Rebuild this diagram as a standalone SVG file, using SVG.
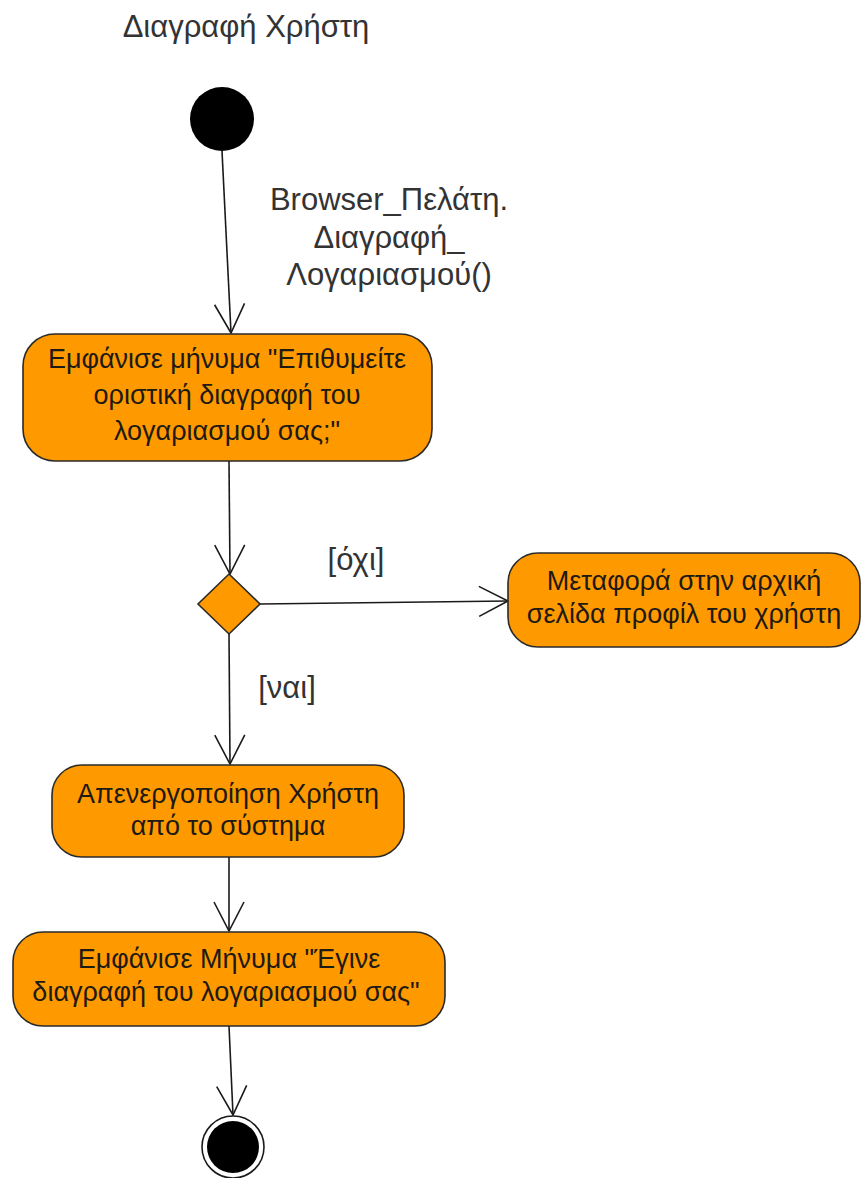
<svg xmlns="http://www.w3.org/2000/svg" width="861" height="1178" viewBox="0 0 861 1178">
  <style>
    text { font-family: "Liberation Sans", Arial, sans-serif; text-anchor: middle; }
    .body { font-size: 27px; fill: #1e1a14; }
    .lbl { font-size: 31px; fill: #333; }
    .act { fill: #ff9900; stroke: #2a2a2a; stroke-width: 1.6; }
    .edge { fill: none; stroke: #1a1a1a; stroke-width: 1.6; }
  </style>
  <defs>
    <marker id="open" markerUnits="userSpaceOnUse" viewBox="-32 -18 34 36" refX="0" refY="0" markerWidth="34" markerHeight="36" orient="auto" overflow="visible">
      <path d="M-29,-15 L0,0 L-29,15" fill="none" stroke="#1a1a1a" stroke-width="1.6"/>
    </marker>
  </defs>
  <rect width="861" height="1178" fill="#fff"/>

  <text x="246" y="37" class="lbl">Διαγραφή Χρήστη</text>

  <!-- connectors -->
  <g id="edges">
    <path class="edge" d="M222,151 L231,333" marker-end="url(#open)"/>
    <path class="edge" d="M229,461 L230,574" marker-end="url(#open)"/>
    <path class="edge" d="M260,604 L508,601" marker-end="url(#open)"/>
    <path class="edge" d="M229,634 L230,764" marker-end="url(#open)"/>
    <path class="edge" d="M229,857 L229,931" marker-end="url(#open)"/>
    <path class="edge" d="M229,1026 L233,1115" marker-end="url(#open)"/>
    <text x="389" y="210" class="lbl">Browser_Πελάτη.</text>
    <text x="389" y="248" class="lbl">Διαγραφή_</text>
    <text x="389" y="285" class="lbl">Λογαριασμού()</text>
    <text x="356" y="570" class="lbl">[όχι]</text>
    <text x="287" y="698" class="lbl">[ναι]</text>
  </g>

  <g id="start">
    <circle cx="222" cy="119" r="32" fill="#000"/>
  </g>

  <g id="confirm">
    <rect class="act" x="23" y="334" width="409" height="127" rx="32"/>
    <text x="227" y="368" class="body">Εμφάνισε μήνυμα "Επιθυμείτε</text>
    <text x="227" y="404" class="body">οριστική διαγραφή του</text>
    <text x="227" y="440" class="body">λογαριασμού σας;"</text>
  </g>

  <g id="decision">
    <polygon class="act" points="229,574 260,604 229,634 198,604"/>
  </g>

  <g id="profile">
    <rect class="act" x="508" y="553" width="352" height="94" rx="30"/>
    <text x="684" y="590" class="body">Μεταφορά στην αρχική</text>
    <text x="684" y="623" class="body">σελίδα προφίλ του χρήστη</text>
  </g>

  <g id="deactivate">
    <rect class="act" x="52" y="765" width="352" height="92" rx="30"/>
    <text x="228" y="803" class="body">Απενεργοποίηση Χρήστη</text>
    <text x="228" y="835" class="body">από το σύστημα</text>
  </g>

  <g id="done">
    <rect class="act" x="13" y="932" width="432" height="94" rx="30"/>
    <text x="229" y="968" class="body">Εμφάνισε Μήνυμα "Έγινε</text>
    <text x="226" y="1001" class="body">διαγραφή του λογαριασμού σας"</text>
  </g>

  <g id="end">
    <circle cx="233" cy="1147" r="31" fill="#fff" stroke="#1a1a1a" stroke-width="1.6"/>
    <circle cx="233" cy="1147" r="26" fill="#000"/>
  </g>
</svg>
